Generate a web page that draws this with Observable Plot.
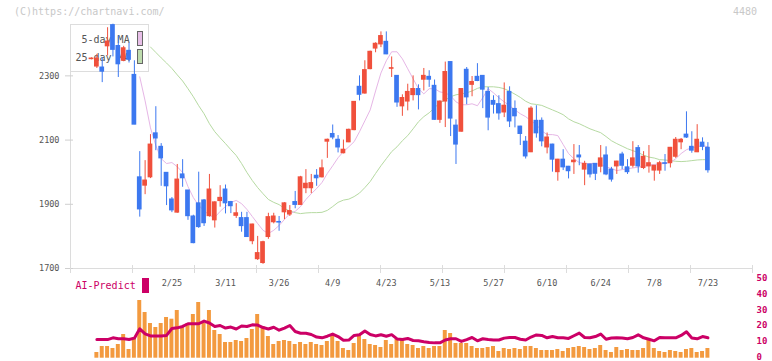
<!DOCTYPE html>
<html><head><meta charset="utf-8">
<script src="https://cdn.jsdelivr.net/npm/d3@7"></script>
<script src="https://cdn.jsdelivr.net/npm/@observablehq/plot@0.6"></script>
<style>
body{margin:0;background:#fff;}
#wrap{position:relative;width:772px;height:361px;overflow:hidden;font-family:"DejaVu Sans Mono",monospace;}
#wrap svg{position:absolute;left:0;top:0;}
.lbl{position:absolute;white-space:nowrap;line-height:12px;}
</style></head><body>
<div id="wrap">
  <div class="lbl" style="left:14px;top:6px;font-size:10px;color:#c8c8c8">(C)https://chartnavi.com/</div>
  <div class="lbl" style="left:733px;top:6px;font-size:10px;color:#c8c8c8">4480</div>
  <div style="position:absolute;left:70px;top:24px;width:77px;height:46px;border:1px solid #ddd;background:#fff"></div>
  <div class="lbl" style="left:81.5px;top:34px;font-size:10px;color:#555">5-day MA</div>
  <div class="lbl" style="left:75.5px;top:51.5px;font-size:10px;color:#555">25-day MA</div>
  <div style="position:absolute;left:136.5px;top:31px;width:4px;height:13px;border:1px solid #666;background:#e8bfe8"></div>
  <div style="position:absolute;left:136.5px;top:48.5px;width:4px;height:13px;border:1px solid #666;background:#bedcae"></div>
  <div class="lbl" style="left:75.5px;top:280px;font-size:10px;color:#cc0066">AI-Predict</div>
  <div style="position:absolute;left:142px;top:277.5px;width:6.7px;height:15.5px;background:#cc0066"></div>
</div>
<script>
const open = [2352,2329,2326,2392,2458,2393,2347,2378,2303,1984,1958,1984,2121,2079,1998,1915,1874,1993,1943,1862,1903,1912,1863,1850,1910,1946,1907,1864,1857,1857,1785,1729,1717,1798,1844,1845,1875,1868,1907,1898,1950,1950,1989,1984,2095,2119,2101,2059,2093,2131,2266,2245,2321,2385,2398,2406,2322,2300,2205,2220,2240,2259,2288,2297,2269,2163,2220,2343,2145,2126,2319,2272,2297,2300,2250,2222,2212,2186,2250,2197,2142,2095,2062,2160,2160,2077,2086,2000,2039,2017,2031,2052,2008,2024,2026,2017,2052,2008,2018,2055,2015,2020,2075,2013,2018,2005,2005,2028,2028,2048,2093,2117,2079,2062,2092,2076];
const high = [2356,2367,2357,2450,2461,2424,2392,2402,2347,2064,2036,2117,2204,2089,1999,1921,2024,2039,1943,1866,2000,1915,1993,1908,1958,1960,1909,1902,1875,1875,1838,1800,1785,1872,1872,1862,1905,1896,1940,1987,2008,1993,2008,2038,2103,2147,2114,2100,2134,2220,2300,2347,2377,2403,2437,2437,2359,2301,2241,2274,2300,2272,2323,2316,2287,2222,2343,2344,2163,2260,2326,2298,2338,2301,2264,2238,2238,2278,2266,2222,2143,2111,2204,2207,2169,2122,2087,2040,2070,2018,2086,2083,2034,2025,2027,2083,2079,2015,2034,2062,2039,2095,2083,2064,2083,2021,2034,2055,2077,2108,2105,2188,2126,2148,2107,2092];
const low = [2350,2323,2279,2362,2359,2295,2344,2340,2148,1860,1930,1980,2067,1956,1896,1874,1872,1953,1850,1777,1825,1831,1860,1826,1891,1870,1871,1856,1813,1797,1774,1725,1713,1791,1839,1816,1852,1862,1886,1896,1933,1933,1956,1982,2043,2101,2060,2057,2092,2129,2222,2243,2319,2372,2388,2366,2295,2202,2174,2191,2222,2194,2253,2264,2162,2152,2139,2111,2024,2125,2210,2235,2282,2198,2129,2181,2162,2170,2139,2138,2083,2041,2061,2106,2079,2057,2000,1972,2005,1979,1993,2020,1958,1982,1974,1998,1989,1969,1993,2008,1993,2013,1997,2008,1997,1972,1993,2003,2013,2043,2070,2105,2059,2061,2067,1997];
const close = [2354,2354,2313,2407,2381,2336,2386,2350,2148,1884,1974,2086,2105,2043,1956,1881,1977,1981,1863,1779,1829,1841,1946,1906,1920,1903,1894,1872,1832,1798,1837,1748,1782,1860,1862,1843,1903,1879,1898,1984,1964,1966,1981,2012,2101,2108,2077,2070,2132,2219,2241,2318,2375,2400,2424,2367,2324,2217,2231,2250,2259,2240,2300,2288,2163,2220,2312,2167,2086,2259,2233,2281,2284,2257,2170,2210,2183,2207,2158,2174,2119,2049,2198,2121,2096,2108,2039,2039,2015,2003,2036,2046,2026,1993,1995,2043,1993,1977,2033,2020,2000,2043,2018,2048,2028,2020,2028,2026,2076,2101,2101,2108,2067,2101,2079,2006];
const ma5 = [null,null,null,null,null,null,null,null,null,2297,2222,2138,2083,2042,2027,2030,2017,1999,1955,1921,1896,1881,1865,1859,1878,1893,1906,1912,1902,1884,1862,1840,1819,1809,1819,1834,1853,1871,1878,1893,1915,1933,1949,1968,1996,2020,2045,2064,2079,2095,2126,2160,2194,2253,2309,2347,2375,2375,2353,2322,2291,2260,2244,2260,2260,2250,2247,2238,2219,2210,2210,2213,2207,2232,2260,2247,2232,2219,2207,2194,2182,2173,2160,2148,2129,2117,2117,2114,2086,2058,2042,2030,2027,2027,2027,2024,2017,2011,2005,2008,2011,2013,2016,2018,2022,2024,2026,2027,2030,2042,2058,2070,2076,2079,2083,2079];
const ma25 = [null,null,null,null,null,null,null,null,null,null,null,2390,2373,2356,2340,2323,2303,2284,2260,2235,2207,2182,2151,2126,2107,2089,2070,2052,2027,1999,1974,1952,1933,1915,1906,1899,1887,1879,1874,1871,1873,1874,1874,1875,1881,1893,1906,1913,1916,1924,1935,1952,1971,1996,2020,2042,2064,2079,2098,2114,2135,2157,2173,2185,2201,2216,2225,2235,2241,2244,2247,2253,2261,2266,2266,2266,2264,2260,2252,2243,2233,2221,2213,2211,2208,2201,2194,2187,2179,2166,2157,2151,2143,2135,2129,2123,2111,2098,2089,2081,2073,2067,2061,2053,2047,2044,2039,2038,2036,2034,2033,2034,2036,2038,2039,2039];
const volume = [null,57,117,117,97,137,237,87,204,577,457,347,307,347,407,390,477,317,347,437,557,347,477,277,237,157,157,177,167,197,287,437,317,217,137,167,177,167,137,157,137,157,137,127,167,217,167,97,77,147,237,187,137,127,107,177,137,187,187,137,127,97,117,97,117,117,277,247,147,147,147,117,97,97,107,117,67,97,87,97,87,117,117,97,77,77,77,87,67,97,107,117,107,87,97,127,77,57,107,77,87,77,77,97,187,97,67,57,77,67,57,87,97,57,67,97];
const aiPredict = [null,11.8,11.8,11.8,12.9,12.3,12.3,11.8,12.7,18.6,15.4,14.1,14.1,14.1,14.4,18.8,19.2,20.1,21.8,21.8,21.8,23.5,22.3,20.1,20.7,19.1,19.7,18.5,20.4,20.1,21.1,21.0,19.4,18.5,19.6,17.7,19.1,20.7,16.9,15.8,15.8,15.0,13.4,12.9,13.9,15.3,13.7,11.3,11.5,14.4,14.8,17.2,15.0,14.1,14.8,13.9,14.9,12.2,11.8,12.5,11.2,11.0,10.4,9.9,9.7,9.7,11.5,12.3,12.3,10.6,11.8,13.1,11.0,12.3,11.8,11.5,11.5,12.7,13.1,13.1,12.0,11.5,13.4,14.7,14.4,12.9,13.7,12.9,12.9,12.5,14.2,15.9,13.1,12.9,13.7,15.3,12.0,12.8,12.9,12.8,12.3,13.1,14.8,12.9,12.0,11.0,13.1,12.9,12.9,12.9,14.4,16.7,12.8,12.3,13.7,12.9];
const priceTicks = [1700, 1900, 2100, 2300];
const aiTicks = [0, 10, 20, 30, 40, 50];
const dateLabels = ["2/25","3/11","3/26","4/9","4/23","5/13","5/27","6/10","6/24","7/8","7/23"];
const dateLabelIndex = [15,25,35,45,55,65,75,85,95,105,115];

const RED = "#f0503c", BLUE = "#3c78f0";
const xDomain = [-3.92, 123.32];
const gridTicks = d3.range(12).map(k => xDomain[0] + k * (xDomain[1] - xDomain[0]) / 11);
const rows = open.map((o, i) => ({i, o, h: high[i], l: low[i], c: close[i], col: close[i] >= o ? RED : BLUE}));
const ma5Rows = ma5.map((v, i) => ({i, v}));
const ma25Rows = ma25.map((v, i) => ({i, v}));
const volRows = volume.map((v, i) => ({i, v})).filter(d => d.v != null);
const aiRows = aiPredict.map((v, i) => ({i, v}));
const labelOf = new Map(dateLabelIndex.map((k, j) => [k, dateLabels[j]]));
const font = "DejaVu Sans Mono, monospace";
const common = {width: 772, height: 361, marginLeft: 70, marginRight: 20, x: {domain: xDomain, axis: null}};

const main = Plot.plot({
  ...common,
  marginTop: 24, marginBottom: 93,
  y: {domain: [1700, 2460], axis: null},
  color: {type: "identity"},
  style: {background: "transparent", fontFamily: font, fontSize: "8.5px"},
  marks: [
    Plot.ruleY([1700], {stroke: "#dcdcdc"}),
    Plot.ruleX([xDomain[0]], {stroke: "#dcdcdc"}),
    Plot.axisY({ticks: priceTicks, tickSize: 8, dx: 3, stroke: "#cfcfcf", fill: "none", label: null}),
    Plot.axisY({ticks: priceTicks, tickSize: 0, tickPadding: 11, fill: "#555", label: null, tickFormat: d => String(d)}),
    Plot.axisX({ticks: gridTicks, tickSize: 8, dy: -3, stroke: "#dcdcdc", fill: "none", label: null}),
    Plot.axisX({ticks: dateLabelIndex, tickSize: 0, tickPadding: 11, fill: "#555", label: null, tickFormat: d => labelOf.get(d)}),
    Plot.line(ma25Rows, {x: "i", y: "v", stroke: "#b6daa2", strokeWidth: 1}),
    Plot.line(ma5Rows, {x: "i", y: "v", stroke: "#e6b6e6", strokeWidth: 1}),
    Plot.ruleX(rows, {x: "i", y1: "l", y2: "h", stroke: "col", strokeWidth: 1}),
    Plot.rect(rows, {x1: d => d.i - 0.44, x2: d => d.i + 0.44, y1: "o", y2: "c", fill: "col", insetTop: -0.5, insetBottom: -0.5})
  ]
});

const vol = Plot.plot({
  ...common,
  marginTop: 278.7, marginBottom: 3.3,
  y: {domain: [0, 790], axis: null},
  style: {background: "transparent", fontFamily: font},
  marks: [
    Plot.rect(volRows, {x1: d => d.i - 0.37, x2: d => d.i + 0.37, y1: 0, y2: "v", fill: "#f39a3f"})
  ]
});

const ai = Plot.plot({
  ...common,
  marginTop: 278.7, marginBottom: 3.3,
  y: {domain: [0, 50], axis: null},
  style: {background: "transparent", fontFamily: font, fontSize: "9px"},
  marks: [
    Plot.axisY({anchor: "right", ticks: aiTicks, tickSize: 0, tickPadding: 4, dy: -1, fill: "#cc0066", fontWeight: "bold", label: null}),
    Plot.line(aiRows, {x: "i", y: "v", stroke: "#cc0066", strokeWidth: 3})
  ]
});

const wrap = document.getElementById("wrap");
wrap.appendChild(vol);
wrap.appendChild(ai);
wrap.appendChild(main);
</script>
</body></html>
